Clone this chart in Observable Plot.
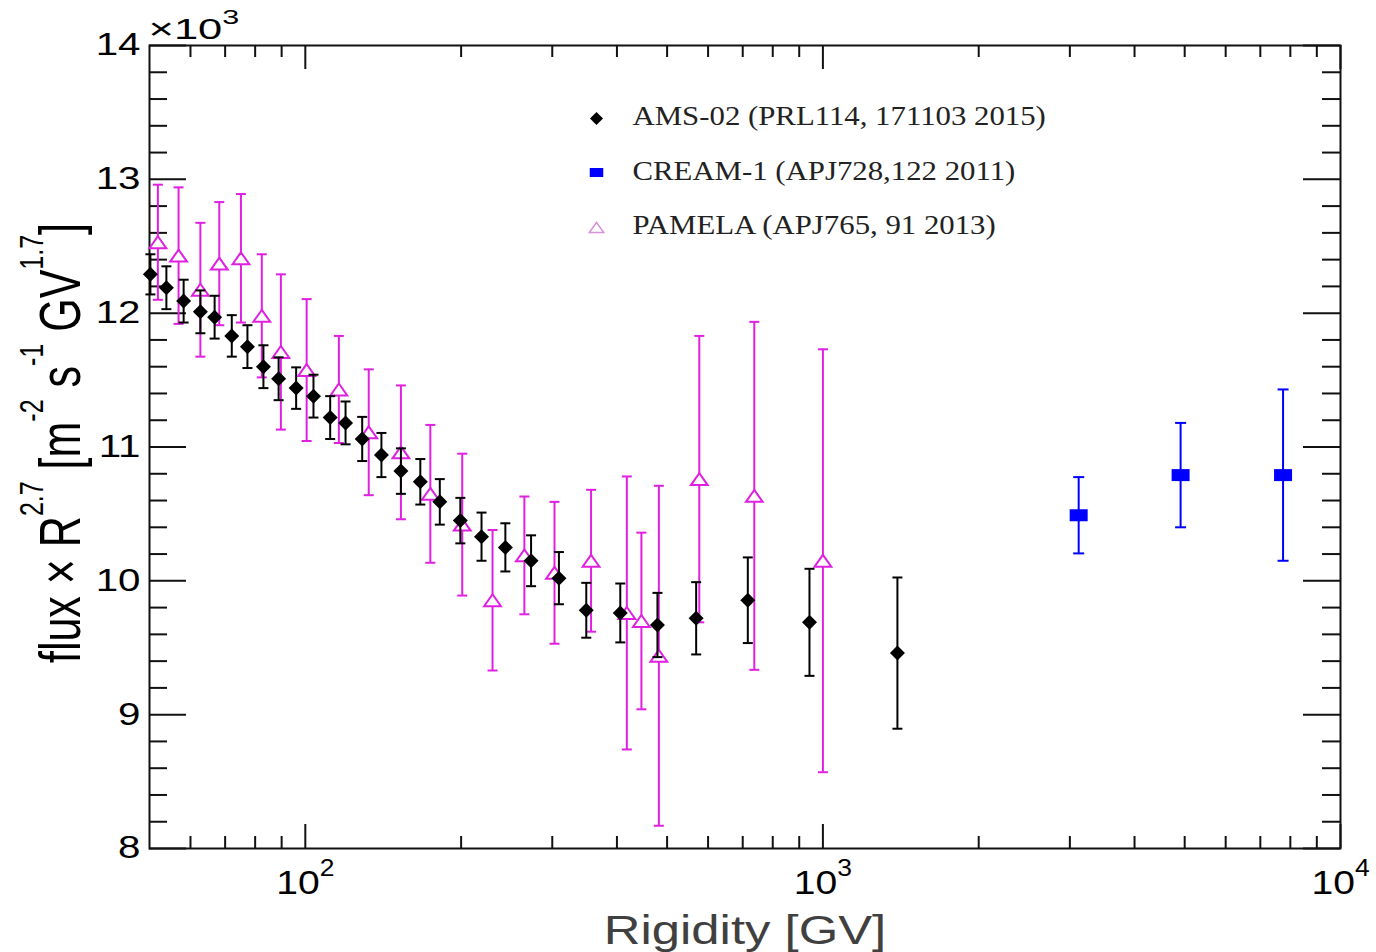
<!DOCTYPE html>
<html>
<head>
<meta charset="utf-8">
<script src="https://cdn.jsdelivr.net/npm/d3@7"></script>
<script src="https://cdn.jsdelivr.net/npm/@observablehq/plot@0.6"></script>
<style>
  html, body { margin: 0; padding: 0; background: #fff; }
  #chart svg { display: block; }
</style>
</head>
<body>
<div id="chart"></div>
<script>
// ---------------- data (flux x R^2.7, in units of 10^3) ----------------
// AMS-02 (PRL114, 171103 2015)
const amsR    = [50.2, 53.9, 58.2, 62.7, 66.8, 72.1, 77.3, 83.0, 88.8, 96.0, 103.7, 111.7, 119.6, 128.8, 140.3, 153, 166.8, 181.9, 199.3, 219, 243.5, 273, 309, 349, 406, 479, 569, 716, 942, 1393];
const amsFlux = [12.29, 12.19, 12.09, 12.01, 11.97, 11.83, 11.75, 11.60, 11.51, 11.44, 11.38, 11.22, 11.18, 11.06, 10.94, 10.82, 10.74, 10.59, 10.45, 10.33, 10.25, 10.15, 10.02, 9.78, 9.76, 9.67, 9.72, 9.855, 9.69, 9.46];
const amsErr  = [0.15, 0.16, 0.16, 0.16, 0.16, 0.155, 0.16, 0.16, 0.16, 0.155, 0.16, 0.16, 0.16, 0.165, 0.165, 0.17, 0.17, 0.17, 0.17, 0.18, 0.18, 0.19, 0.195, 0.205, 0.22, 0.24, 0.27, 0.32, 0.40, 0.565];

// CREAM-1 (APJ728,122 2011)
const creamR    = [3120, 4910, 7745];
const creamFlux = [10.49, 10.79, 10.79];
const creamErr  = [0.285, 0.39, 0.64];

// PAMELA (APJ765, 91 2013)
const pamR    = [51.9, 56.9, 62.7, 68.2, 75.1, 82.4, 89.7, 100.6, 116.1, 132.6, 153, 174.4, 201, 230, 265, 303, 356.5, 418, 446, 482, 577, 737, 1000];
const pamFlux = [12.53, 12.43, 12.175, 12.37, 12.41, 11.98, 11.71, 11.575, 11.43, 11.11, 10.96, 10.65, 10.42, 9.855, 10.19, 10.06, 10.15, 9.76, 9.70, 9.44, 10.76, 10.635, 10.15];
const pamErr  = [0.43, 0.51, 0.50, 0.46, 0.48, 0.46, 0.58, 0.53, 0.40, 0.47, 0.50, 0.515, 0.53, 0.525, 0.44, 0.53, 0.53, 1.02, 0.66, 1.27, 1.07, 1.30, 1.58];

// legend
const legendLabels = ["AMS-02 (PRL114, 171103 2015)", "CREAM-1 (APJ728,122 2011)", "PAMELA (APJ765, 91 2013)"];

// axis ticks
const yMajor = [8, 9, 10, 11, 12, 13, 14];
const yMinor = [8.2, 8.4, 8.6, 8.8, 9.2, 9.4, 9.6, 9.8, 10.2, 10.4, 10.6, 10.8, 11.2, 11.4, 11.6, 11.8, 12.2, 12.4, 12.6, 12.8, 13.2, 13.4, 13.6, 13.8];
const xMajor = [100, 1000, 10000];
const xMinor = [60, 70, 80, 90, 200, 300, 400, 500, 600, 700, 800, 900, 2000, 3000, 4000, 5000, 6000, 7000, 8000, 9000];
const xTickText = ["10^{2}", "10^{3}", "10^{4}"];
const yTitle = "flux × R^{2.7} [m^{-2} s^{-1} GV^{1.7}]";
const xTitle = "Rigidity [GV]";
const multText = "×10^{3}";

// ---------------- layout ----------------
const W = 1376, H = 952;
const mL = 149, mR = 36, mT = 45, mB = 104;
const pw = W - mL - mR, ph = H - mT - mB;

const toRows = (R, V, E) => R.map((r, i) => ({R: r, v: V[i], e: E[i]}));
const ams = toRows(amsR, amsFlux, amsErr);
const cream = toRows(creamR, creamFlux, creamErr);
const pam = toRows(pamR, pamFlux, pamErr);

const rad = (size) => Math.sqrt(size / Math.PI);
const capSym = {draw(c, s) { const r = rad(s); c.moveTo(-r, 0); c.lineTo(r, 0); }};
const diamondSym = {draw(c, s) { const r = rad(s); c.moveTo(0, -r); c.lineTo(r, 0); c.lineTo(0, r); c.lineTo(-r, 0); c.closePath(); }};
const triSym = {draw(c, s) { const r = rad(s); c.moveTo(0, -r * 0.85); c.lineTo(r * 1.2, r * 0.85); c.lineTo(-r * 1.2, r * 0.85); c.closePath(); }};
const rectSym = {draw(c, s) { const r = rad(s); c.rect(-r * 1.5, -r, r * 3, r * 2); }};

const MAG = "#e020e0", BLUE = "#0000ff", INK = "#111";

function series(data, color, sym, r, fill, stroke, capR) {
  return [
    Plot.ruleX(data, {x: "R", y1: d => d.v - d.e, y2: d => d.v + d.e, stroke: color, strokeWidth: 2}),
    Plot.dot(data, {x: "R", y: d => d.v + d.e, symbol: capSym, r: capR, stroke: color, strokeWidth: 2, fill: "none"}),
    Plot.dot(data, {x: "R", y: d => d.v - d.e, symbol: capSym, r: capR, stroke: color, strokeWidth: 2, fill: "none"}),
    Plot.dot(data, {x: "R", y: "v", symbol: sym, r, fill, stroke, strokeWidth: 2})
  ];
}

const legendFont = "'Liberation Serif', 'Times New Roman', serif";
const legendRows = [71, 125.5, 179.5];

const chart = Plot.plot({
  width: W, height: H,
  marginLeft: mL, marginRight: mR, marginTop: mT, marginBottom: mB,
  style: {fontFamily: "'Liberation Sans', Arial, sans-serif", background: "#fff", color: "#000"},
  x: {type: "log", domain: [50, 10000], axis: null},
  y: {domain: [8, 14], axis: null},
  marks: [
    // ticks (inward, ROOT style)
    Plot.tickX(xMajor, {x: d => d, insetTop: ph - 24, stroke: INK, strokeWidth: 2}),
    Plot.tickX(xMinor, {x: d => d, insetTop: ph - 12, stroke: INK, strokeWidth: 2}),
    Plot.tickX(xMajor, {x: d => d, insetBottom: ph - 24, stroke: INK, strokeWidth: 2}),
    Plot.tickX(xMinor, {x: d => d, insetBottom: ph - 12, stroke: INK, strokeWidth: 2}),
    Plot.tickY(yMajor, {y: d => d, insetRight: pw - 37, stroke: INK, strokeWidth: 2}),
    Plot.tickY(yMinor, {y: d => d, insetRight: pw - 18, stroke: INK, strokeWidth: 2}),
    Plot.tickY(yMajor, {y: d => d, insetLeft: pw - 37, stroke: INK, strokeWidth: 2}),
    Plot.tickY(yMinor, {y: d => d, insetLeft: pw - 18, stroke: INK, strokeWidth: 2}),
    Plot.frame({stroke: INK, strokeWidth: 2}),

    // y tick labels
    Plot.axisY({ticks: yMajor, tickSize: 0, tickPadding: 9, fontSize: 31, label: null, tickFormat: d => String(d)}),
    // x tick labels
    Plot.text(xMajor, {x: d => d, frameAnchor: "bottom", dy: 45, lineAnchor: "bottom", textAnchor: "middle", fontSize: 34, fill: "#000",
      text: (d, i) => xTickText[i]}),
    // x10^3 multiplier
    Plot.text([multText], {frameAnchor: "top-left", dx: -1, dy: -7, textAnchor: "start", lineAnchor: "bottom", fontSize: 30, fill: "#000", text: d => d}),
    // axis titles
    Plot.text([xTitle], {frameAnchor: "bottom", dy: 95, lineAnchor: "bottom", textAnchor: "middle", fontSize: 40, fill: "#404040", text: d => d}),
    Plot.text([yTitle], {frameAnchor: "left", dx: -70, dy: -4, rotate: -90, lineAnchor: "bottom", textAnchor: "middle", fontSize: 43, fill: "#000", text: d => d}),

    // data
    ...series(pam, MAG, triSym, 7, "white", MAG, 5),
    ...series(ams, "#000", diamondSym, 7.5, "#000", "none", 5),
    ...series(cream, BLUE, rectSym, 6, BLUE, "none", 5.5),

    // legend
    Plot.dot([0], {frameAnchor: "top-left", dx: 447, dy: 73, symbol: diamondSym, r: 6.5, fill: "#000", stroke: "none"}),
    Plot.dot([0], {frameAnchor: "top-left", dx: 447, dy: 127, symbol: rectSym, r: 4.5, fill: BLUE, stroke: "none"}),
    Plot.dot([0], {frameAnchor: "top-left", dx: 447, dy: 182, symbol: triSym, r: 6, fill: "white", stroke: "#d890d8", strokeWidth: 1.5}),
    ...legendLabels.map((lab, i) => Plot.text([lab], {frameAnchor: "top-left", dx: 483, dy: legendRows[i], textAnchor: "start", lineAnchor: "middle",
      fontSize: 28, fontFamily: legendFont, fill: "#222", text: d => d}))
  ]
});

document.getElementById("chart").append(chart);

// ---------- text post-processing: superscripts and glyph stretch ----------
const NS = "http://www.w3.org/2000/svg";
function richify(el, supFs, rise) {
  const raw = el.textContent;
  const parts = []; const re = /\^\{([^}]*)\}/g; let last = 0, m;
  while ((m = re.exec(raw))) {
    if (m.index > last) parts.push({t: raw.slice(last, m.index)});
    parts.push({t: m[1], sup: true});
    last = re.lastIndex;
  }
  if (last < raw.length) parts.push({t: raw.slice(last)});
  while (el.firstChild) el.removeChild(el.firstChild);
  let up = false;
  for (const p of parts) {
    const ts = document.createElementNS(NS, "tspan");
    ts.textContent = p.t;
    if (p.sup) { ts.setAttribute("font-size", supFs); ts.setAttribute("dy", -rise); up = true; }
    else if (up) { ts.setAttribute("dy", rise); up = false; }
    el.appendChild(ts);
  }
  el.style.whiteSpace = "pre";
}
function stretch(el, sx, sy) {
  let t = el.getAttribute("transform");
  if (!t) {
    const x = +(el.getAttribute("x") || 0), y = +(el.getAttribute("y") || 0);
    el.removeAttribute("x"); el.removeAttribute("y");
    t = `translate(${x},${y})`;
  }
  el.setAttribute("transform", `${t} scale(${sx},${sy})`);
}

const yLabelSet = new Set(yMajor.map(String));
chart.querySelectorAll("text").forEach((el) => {
  const s = el.textContent;
  if (s === yTitle) { richify(el, 25, 27); stretch(el, 1, 1.35); }
  else if (s === multText) { richify(el, 21, 15); stretch(el, 1.45, 1); }
  else if (xTickText.includes(s)) { richify(el, 23, 18); stretch(el, 1.15, 1); }
  else if (s === xTitle) { stretch(el, 1.27, 1); }
  else if (yLabelSet.has(s)) { stretch(el, 1.3, 1); }
  else if (legendLabels.includes(s)) { stretch(el, 1.1, 1); }
});
</script>
</body>
</html>
